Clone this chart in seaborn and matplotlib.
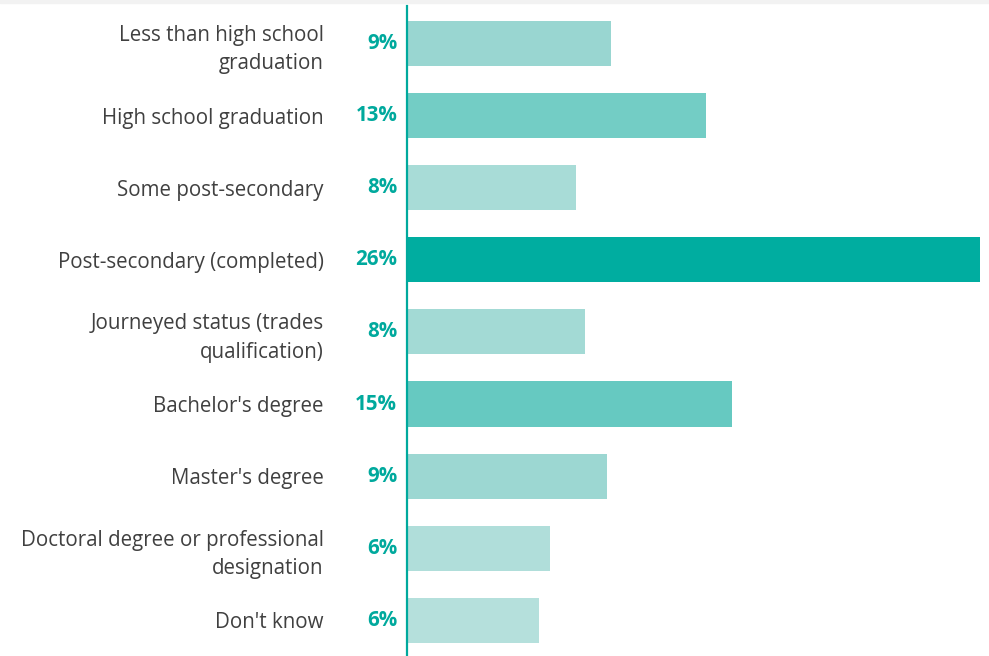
import matplotlib
matplotlib.use("Agg")
import matplotlib.pyplot as plt
import seaborn as sns
import pandas as pd
from matplotlib.patches import Rectangle

# Daten
categories = [
    "Less than high school\ngraduation",
    "High school graduation",
    "Some post-secondary",
    "Post-secondary (completed)",
    "Journeyed status (trades\nqualification)",
    "Bachelor's degree",
    "Master's degree",
    "Doctoral degree or professional\ndesignation",
    "Don't know",
]
values = [9.26, 13.57, 7.67, 26.0, 8.08, 14.75, 9.07, 6.49, 5.99]
labels = ["9%", "13%", "8%", "26%", "8%", "15%", "9%", "6%", "6%"]
bar_colors = ["#99D6D1", "#73CDC5", "#A8DCD7", "#00ADA0", "#A3DAD5",
              "#66C9C1", "#9CD7D2", "#B0DEDA", "#B5E0DC"]

df = pd.DataFrame({"category": categories, "value": values})

sns.set_style("white")
plt.rcParams["font.family"] = ["Open Sans", "DejaVu Sans"]

fig = plt.figure(figsize=(9.89, 6.56), dpi=100)
ax = fig.add_axes([407 / 989, 0, (980 - 407) / 989, 650 / 656])

sns.barplot(data=df, y="category", x="value", hue="category",
            palette=bar_colors, legend=False, orient="h", width=0.625,
            saturation=1, linewidth=0, ax=ax)

ax.set_xlim(0, 26.0)
ax.set_ylim(8.495, -0.52)
ax.set_xlabel("")
ax.set_ylabel("")
ax.set_xticks([])

for side in ["top", "right", "bottom"]:
    ax.spines[side].set_visible(False)
ax.spines["left"].set_color("#00A99D")
ax.spines["left"].set_linewidth(1.6)

ax.tick_params(axis="y", length=0, pad=60, labelsize=14.8, labelcolor="#404040")
for t in ax.get_yticklabels():
    t.set_horizontalalignment("right")
    t.set_linespacing(1.45)

# Prozentwerte links der Achse
for i, lab in enumerate(labels):
    ax.annotate(lab, xy=(0, i), xytext=(-7, 0), textcoords="offset points",
                ha="right", va="center", fontsize=14.8, fontweight="bold",
                color="#00A99D")

# hellgrauer Streifen oben
fig.patches.append(Rectangle((0, 1 - 3 / 656), 1, 3 / 656, transform=fig.transFigure,
                             color="#F2F2F2", zorder=0))

fig.savefig("out.png", dpi=100)
